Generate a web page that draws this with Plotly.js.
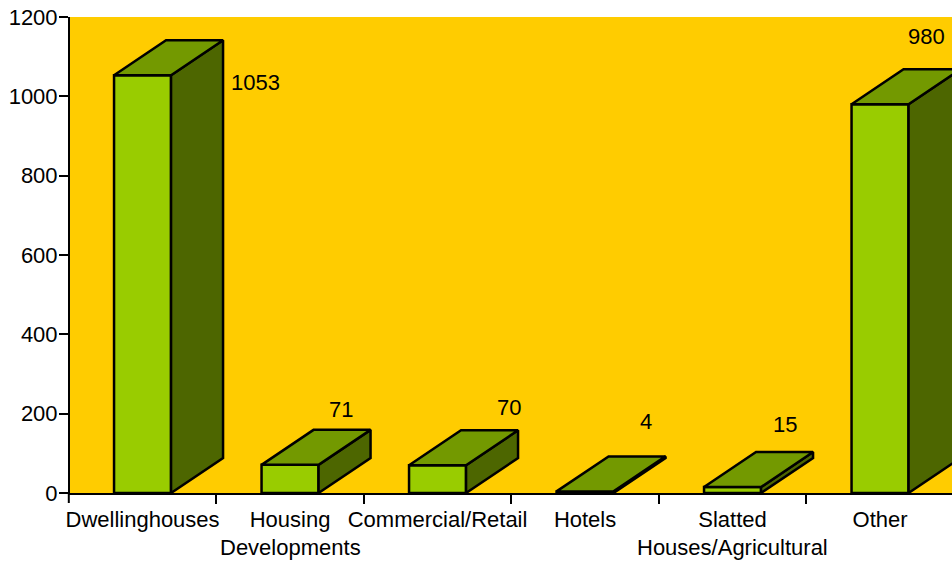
<!DOCTYPE html>
<html>
<head>
<meta charset="utf-8">
<script src="https://cdn.plot.ly/plotly-3.0.1.min.js"></script>
<style>html,body{margin:0;padding:0;background:#fff;overflow:hidden}#chart{width:952px;height:562px}</style>
</head>
<body>
<div id="chart"></div>
<script>
// Data
var labelLine1 = ['Dwellinghouses', 'Housing', 'Commercial/Retail', 'Hotels', 'Slatted', 'Other'];
var labelLine2 = ['', 'Developments', '', '', 'Houses/Agricultural', ''];
var values = [1053, 71, 70, 4, 15, 980];
var yTicks = [0, 200, 400, 600, 800, 1000, 1200];

// Value label placement relative to each bar (pixels)
var labelShiftX = [112.5, 51, 71.5, 61, 52, 46];
var labelShiftY = [-7, 55, 57.5, 70, 63, 68];

// Drawing settings
var pxPerCat = 147.5, plotW = 882, startPx = 1.2;
var barW = 57 / pxPerCat;
var depthX = 52 / pxPerCat;
var depthY = 35 * 1200 / 476;
var idx = values.map(function (_, i) { return i; });

function face(points) {
  var xs = [], ys = [];
  values.forEach(function (v, i) {
    points(v, i).forEach(function (p) { xs.push(p[0]); ys.push(p[1]); });
    xs.push(null); ys.push(null);
  });
  return {xs: xs, ys: ys};
}
var side = face(function (v, i) {
  var r = i + barW / 2;
  return [[r, 0], [r + depthX, depthY], [r + depthX, v + depthY], [r, v], [r, 0]];
});
var top_ = face(function (v, i) {
  var l = i - barW / 2, r = i + barW / 2;
  return [[l, v], [l + depthX, v + depthY], [r + depthX, v + depthY], [r, v], [l, v]];
});
function faceTrace(f, color) {
  return {type: 'scatter', mode: 'lines', x: f.xs, y: f.ys, fill: 'toself', fillcolor: color,
    line: {color: '#000', width: 2.5, shape: 'linear'}, hoverinfo: 'skip', showlegend: false, connectgaps: false};
}
var traces = [
  {type: 'bar', x: idx, y: values, width: barW,
   marker: {color: '#99cc00', line: {color: '#000', width: 2.5}}, hoverinfo: 'skip', showlegend: false},
  faceTrace(side, '#4d6600'),
  faceTrace(top_, '#739900')
];

var font = {family: '"Liberation Sans", Arial, sans-serif', size: 22, color: '#000'};
var annotations = values.map(function (v, i) {
  return {x: i, y: v, text: String(v), showarrow: false, xanchor: 'center', yanchor: 'middle',
    xshift: labelShiftX[i], yshift: labelShiftY[i], font: font};
});
labelLine2.forEach(function (t, i) {
  if (t) annotations.push({x: i, xref: 'x', y: 0, yref: 'paper', yshift: -54, text: t, showarrow: false,
    xanchor: 'center', yanchor: 'middle', font: font});
});

var start = -0.5 + startPx / pxPerCat;
var layout = {
  width: 952, height: 562,
  margin: {l: 70, r: 0, t: 17, b: 69, pad: 0},
  paper_bgcolor: '#ffffff', plot_bgcolor: '#ffcc00',
  font: font, showlegend: false,
  xaxis: {
    range: [start, start + plotW / pxPerCat], tickmode: 'array', tickvals: idx, ticktext: labelLine1,
    ticks: '', ticklen: 0, ticklabelstandoff: 6, showgrid: false, zeroline: false, showline: true, linecolor: '#000', linewidth: 2,
    tickfont: font, tickangle: 0,
    minor: {tickmode: 'array', tickvals: [0.5, 1.5, 2.5, 3.5, 4.5, 5.5], ticks: 'outside', ticklen: 9,
            tickwidth: 2, tickcolor: '#000', showgrid: false}
  },
  yaxis: {
    range: [0, 1200], tickmode: 'array', tickvals: yTicks, ticks: 'outside', ticklen: 9, tickwidth: 2,
    ticklabelstandoff: -3,
    tickcolor: '#000', showgrid: false, zeroline: false, showline: true, linecolor: '#000', linewidth: 2,
    tickfont: font
  },
  shapes: [{type: 'line', xref: 'paper', yref: 'paper', x0: -startPx / plotW, x1: -startPx / plotW,
    ysizemode: 'pixel', yanchor: 0, y0: 0, y1: -10, line: {color: '#000', width: 2}}],
  annotations: annotations,
  bargap: 0
};
Plotly.newPlot('chart', traces, layout, {displayModeBar: false, staticPlot: true});
</script>
</body>
</html>
